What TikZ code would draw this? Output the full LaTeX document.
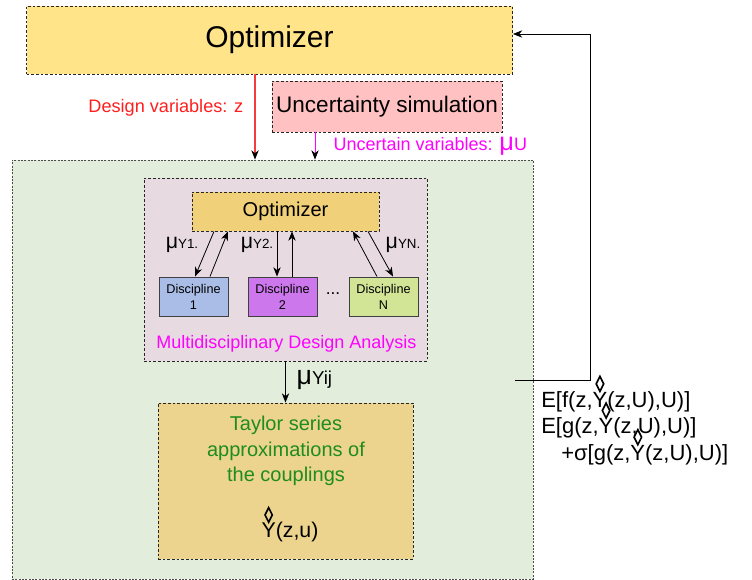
\documentclass[tikz,border=0pt]{standalone}
\usepackage{fontspec}
\setmainfont{Liberation Sans}
\usepackage{tikz}
\usetikzlibrary{positioning, arrows.meta, calc}
\definecolor{optyellow}{RGB}{255,228,138}
\definecolor{simpink}{RGB}{255,193,193}
\definecolor{outgreen}{RGB}{226,237,220}
\definecolor{mdamauve}{RGB}{231,218,225}
\definecolor{inyellow}{RGB}{241,208,122}
\definecolor{discblue}{RGB}{169,189,230}
\definecolor{discpurple}{RGB}{204,120,236}
\definecolor{discgreen}{RGB}{210,229,151}
\definecolor{taylorfill}{RGB}{236,212,142}
\definecolor{myred}{RGB}{255,30,30}
\definecolor{myredline}{RGB}{245,60,60}
\definecolor{mymagenta}{RGB}{255,0,255}
\definecolor{mygreen}{RGB}{30,140,30}
\newcommand{\yhat}{\rlap{\hbox to 0.667em{\hss\smash{\tikz[baseline=0pt, x=1em, y=1em] \draw[line width=0.075em] (0,0.72) -- (0.17,1.06) -- (0,1.4) -- (-0.17,1.06) -- cycle;}\hss}}Y}
\newcommand{\muof}[1]{{\fontsize{16}{16}\selectfont μ}{\fontsize{10}{10}\selectfont #1}}

\begin{document}
\begin{tikzpicture}[x=0.75pt, y=-0.75pt,
    dbox/.style={draw=black!85, dash pattern=on 2pt off 1.5pt, line width=0.6pt, inner sep=0pt},
    discbox/.style={draw=black!75, line width=0.7pt, inner sep=0pt, minimum width=51.75pt, minimum height=29.25pt, align=center, font=\fontsize{9.5}{12}\selectfont},
    arr/.style={line width=0.6pt, -{Stealth[length=7pt, width=5.5pt, inset=2.2pt, color=black]}}]
                \useasboundingbox (0,0) rectangle (752,580);

                \node[dbox, fill=optyellow, minimum width=364.5pt, minimum height=51pt, font=\fontsize{22.5}{26}\selectfont] (topopt) at (269.5,40) {Optimizer};
                \node[dbox, fill=simpink, minimum width=172.5pt, minimum height=38.25pt, font=\fontsize{16.9}{20}\selectfont] (unsim) at (387,106.5) {Uncertainty simulation};
                \node[draw=black!70, dash pattern=on 1.5pt off 1pt, line width=0.6pt, fill=outgreen, minimum width=390.75pt, minimum height=314.25pt] (outer) at (272.5,369.5) {};
                \node[dbox, fill=mdamauve, minimum width=212.25pt, minimum height=137.25pt] (mda) at (285.5,269.5) {};
                \node[dbox, fill=inyellow, minimum width=140.25pt, minimum height=29.25pt, font=\fontsize{15}{18}\selectfont] (mdaopt) at (285.5,211.5) {Optimizer};
                \node[discbox, fill=discblue] (disc1) at (193.5,296.5) {Discipline\\1};
                \node[discbox, fill=discpurple] (disc2) at (282.5,296.5) {Discipline\\2};
                \node[discbox, fill=discgreen] (discn) at (383.5,296.5) {Discipline\\N};
                \node[font=\fontsize{13}{13}\selectfont] (dots) at (333,294) {...};
                \node[text=mymagenta, font=\fontsize{13.5}{16}\selectfont] (mdalbl) at (286.5,344) {Multidisciplinary Design Analysis};
                \node[dbox, fill=taylorfill, minimum width=191.25pt, minimum height=117pt] (taylor) at (285.5,481) {};
                \node[text=mygreen, align=center, font=\fontsize{15}{19}\selectfont] (taylortxt) at (286,451) {Taylor series\\approximations of\\the couplings};
                \node[font=\fontsize{16}{19}\selectfont] (approx) at (290,532) {\yhat(z,u)};

                \draw[arr, myredline, line width=0.8pt] ($(topopt.south)+(-14.5,0)$) -- ($(outer.north)+(-17.5,0)$);
                \node[anchor=east, text=myred, font=\fontsize{13.6}{16}\selectfont] (dvlbl) at (248,108) {Design variables: z};
                \draw[arr, mymagenta] ($(unsim.south)+(-72,0)$) -- ($(outer.north)+(42.5,0)$);
                \node[anchor=west, text=mymagenta, font=\fontsize{13.5}{16}\selectfont] (uvlbl) at (329,146) {Uncertain variables: {\fontsize{19}{19}\selectfont μ}U};

                \draw[arr] ($(mdaopt.south)+(-71.5,0)$) -- ($(disc1.north)+(1.5,0)$);
                \draw[arr] ($(disc1.north)+(16.5,0)$) -- ($(mdaopt.south)+(-57.5,0)$);
                \draw[arr] ($(mdaopt.south)+(-8.5,0)$) -- ($(disc2.north)+(-5.5,0)$);
                \draw[arr] ($(disc2.north)+(9.5,0)$) -- ($(mdaopt.south)+(6.5,0)$);
                \draw[arr] ($(discn.north)+(-6.5,0)$) -- ($(mdaopt.south)+(67.5,0)$);
                \draw[arr] ($(mdaopt.south)+(82.5,0)$) -- ($(discn.north)+(9.5,0)$);
                \node (mu1) at (182,245) {\muof{Y1.}};
                \node (mu2) at (257,245) {\muof{Y2.}};
                \node (mun) at (403,245) {\muof{YN.}};

                \draw[arr] (mda.south) -- (taylor.north);
                \node[anchor=west] (muij) at (292,380) {{\fontsize{20}{20}\selectfont μ}{\fontsize{14}{14}\selectfont Yij}};

                \coordinate (fbstart) at (515,380);
                \draw[arr] (fbstart) -- ++(75,0) |- ($(topopt.east)+(0,-6)$);
                \node[anchor=north west, align=left, inner sep=0pt, font=\fontsize{16.5}{20}\selectfont] (moments) at (541,391) {E[f(z,\yhat(z,U),U)]\\E[g(z,\yhat(z,U),U)]\\\hspace{15pt}+σ[g(z,\yhat(z,U),U)]};
            \end{tikzpicture}
\end{document}
